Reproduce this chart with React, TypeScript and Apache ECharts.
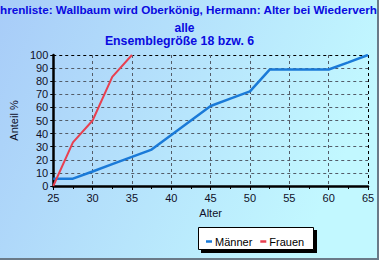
import React, { useEffect, useRef } from "react";
import * as echarts from "echarts";

const titleLines = [
  "hrenliste: Wallbaum wird Oberkönig, Hermann: Alter bei Wiederverh",
  "alle",
  "Ensemblegröße 18 bzw. 6",
];
const xTicks = [25, 30, 35, 40, 45, 50, 55, 60, 65];
const yTicks = [0, 10, 20, 30, 40, 50, 60, 70, 80, 90, 100];
const maennerAge = [25, 27.5, 30, 32.5, 35, 37.5, 40, 42.5, 45, 47.5, 50, 52.5, 55, 57.5, 60, 62.5, 65];
const maennerPct = [5.6, 5.6, 11.1, 16.7, 22.2, 27.8, 38.9, 50, 61.1, 66.7, 72.2, 88.9, 88.9, 88.9, 88.9, 94.4, 100];
const frauenAge = [25, 27.5, 30, 32.5, 35];
const frauenPct = [0, 33.3, 50, 83.3, 100];

export default function App() {
  const ref = useRef<HTMLDivElement>(null);
  useEffect(() => {
    if (!ref.current) return;
    const chart = echarts.init(ref.current, null, { renderer: "svg" });
    const font = "'Liberation Sans', Arial, sans-serif";
    const gridColorsY = yTicks.map((v, i) => (i === yTicks.length - 1 ? "#000000" : "#535c68"));
    const gridColorsX = xTicks.map((v, i) => (i === xTicks.length - 1 ? "#000000" : "#535c68"));
    chart.setOption({
      animation: false,
      backgroundColor: new echarts.graphic.LinearGradient(0, 0, 1, 0.3, [
        { offset: 0, color: "#a8ccf8" },
        { offset: 1, color: "#c2f8ff" },
      ]),
      grid: { left: 52, right: 11, top: 55, bottom: 74 },
      xAxis: {
        type: "value",
        min: 25,
        max: 65,
        interval: 5,
        name: "Alter",
        nameLocation: "middle",
        nameGap: 21,
        nameTextStyle: { color: "#101028", fontFamily: font, fontSize: 11 },
        axisLine: { show: true, onZero: false, lineStyle: { color: "#000", width: 2.5 } },
        axisTick: { show: true, length: 4, lineStyle: { color: "#000" } },
        minorTick: { show: true, splitNumber: 2, length: 3, lineStyle: { color: "#000" } },
        axisLabel: { color: "#101028", fontFamily: font, fontSize: 11, margin: 6 },
        splitLine: { show: true, lineStyle: { type: [3, 3], color: gridColorsX, width: 1 } },
      },
      yAxis: {
        type: "value",
        min: 0,
        max: 100,
        interval: 10,
        name: "Anteil %",
        nameLocation: "middle",
        nameGap: 27,
        nameRotate: 90,
        nameTextStyle: { color: "#101028", fontFamily: font, fontSize: 11 },
        axisLine: { show: true, lineStyle: { color: "#000", width: 2.5 } },
        axisTick: { show: true, length: 3, lineStyle: { color: "#000" } },
        axisLabel: { color: "#101028", fontFamily: font, fontSize: 11, margin: 5 },
        splitLine: { show: true, lineStyle: { type: [3, 3], color: gridColorsY, width: 1 } },
      },
      legend: {
        left: 201,
        top: 231,
        itemGap: 8,
        itemWidth: 6,
        itemHeight: 2.5,
        icon: "rect",
        textStyle: { color: "#000", fontFamily: font, fontSize: 11, padding: [0, 0, 0, -2] },
        data: ["Männer", "Frauen"],
      },
      graphic: [
        { type: "rect", shape: { x: 201, y: 230, width: 116, height: 23 }, style: { fill: "#000" }, z: -1 },
        { type: "rect", shape: { x: 198.5, y: 227.5, width: 115, height: 22 }, style: { fill: "#fff", stroke: "#000", lineWidth: 1 }, z: -1 },
        { type: "rect", shape: { x: 0, y: 258, width: 379, height: 2 }, style: { fill: "#6a7a88" } },
        { type: "rect", shape: { x: 377, y: 0, width: 2, height: 260 }, style: { fill: "#6a7a88" } },
        {
          type: "text",
          x: 0,
          y: 3,
          style: { text: titleLines[0], fill: "#0a0ae0", font: `bold 11.7px ${font}`, textAlign: "left", textVerticalAlign: "top" },
        },
        {
          type: "text",
          x: 184.5,
          y: 22,
          style: { text: titleLines[1], fill: "#0a0ae0", font: `bold 12px ${font}`, textAlign: "center", textVerticalAlign: "top" },
        },
        {
          type: "text",
          x: 179.5,
          y: 35,
          style: { text: titleLines[2], fill: "#0a0ae0", font: `bold 12.3px ${font}`, textAlign: "center", textVerticalAlign: "top" },
        },
      ],
      series: [
        {
          name: "Männer",
          type: "line",
          showSymbol: false,
          color: "#1a7ad8",
          lineStyle: { width: 2.5, color: "#1a7ad8" },
          data: maennerAge.map((a, i) => [a, maennerPct[i]]),
        },
        {
          name: "Frauen",
          type: "line",
          showSymbol: false,
          color: "#e84050",
          lineStyle: { width: 2, color: "#e84050" },
          data: frauenAge.map((a, i) => [a, frauenPct[i]]),
        },
      ],
    });
    return () => chart.dispose();
  }, []);
  return <div ref={ref} style={{ position: "fixed", left: 0, top: 0, width: 379, height: 260 }} />;
}
